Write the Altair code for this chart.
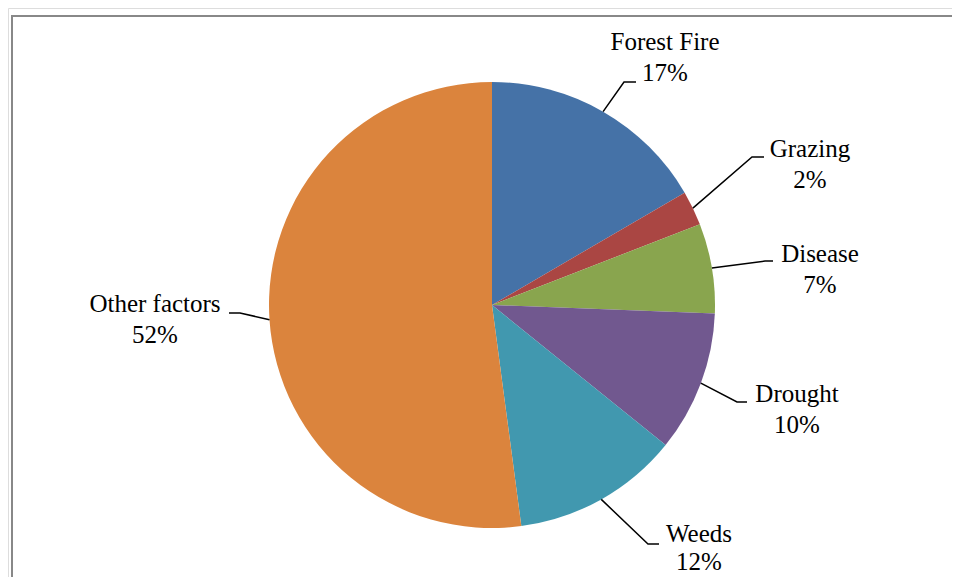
import math
import altair as alt
import pandas as pd

# ---- data ----
categories = ["Forest Fire", "Grazing", "Disease", "Drought", "Weeds", "Other factors"]
values = [16.6, 2.5, 6.5, 10.2, 12.1, 52.1]
pct_labels = ["17%", "2%", "7%", "10%", "12%", "52%"]
colors = ["#4572A7", "#AA4643", "#89A54E", "#71588F", "#4198AF", "#DB843D"]

# ---- layout (styling) ----
W, H = 944, 569
CX, CY, R = 484, 297, 223
# elbow and end points of leader lines, label centres (view pixels)
elbows = [(616, 74), (744, 149), (757, 253), (729, 394), (640, 536), (232, 305)]
ends = [(628, 74), (756, 149), (765, 253), (739, 394), (651, 536), (221, 305)]
label_pos = [(657, 34), (802, 141), (812, 246), (789, 386), (691, 526), (147, 296)]
line_gaps = [31, 31, 31, 31, 28, 31]
FONT = "Liberation Serif"
FS = 25

pie_df = pd.DataFrame({"cat": categories, "val": values, "idx": range(len(values))})

total = sum(values)
cum = 0.0
line_rows, label_rows = [], []
for i, (c, v) in enumerate(zip(categories, values)):
    mid = (cum + v / 2) / total * 2 * math.pi
    cum += v
    sx = CX + R * math.sin(mid)
    sy = CY - R * math.cos(mid)
    pts = [(sx, sy), elbows[i], ends[i]]
    for k, (px, py) in enumerate(pts):
        line_rows.append({"cat": c, "k": k, "px": px, "py": py})
    lx, ly = label_pos[i]
    label_rows.append({"cat": c, "pct": pct_labels[i], "lx": lx, "ly": ly, "ly2": ly + line_gaps[i]})

line_df = pd.DataFrame(line_rows)
label_df = pd.DataFrame(label_rows)

one = pd.DataFrame({"a": [0]})
frame_top = alt.Chart(one).mark_rule(stroke="#888888", strokeWidth=2).encode(
    x=alt.value(3), x2=alt.value(W + 20), y=alt.value(8)
)
frame_left = alt.Chart(one).mark_rule(stroke="#888888", strokeWidth=2).encode(
    x=alt.value(4), y=alt.value(7), y2=alt.value(H + 20)
)

pie = alt.Chart(pie_df).mark_arc(outerRadius=R).encode(
    theta=alt.Theta("val:Q", stack=True),
    order=alt.Order("idx:Q"),
    color=alt.Color("cat:N", scale=alt.Scale(domain=categories, range=colors), legend=None),
    x=alt.value(CX),
    y=alt.value(CY),
)

leaders = alt.Chart(line_df).mark_line(color="black", strokeWidth=1.5).encode(
    x=alt.X("px:Q", scale=None),
    y=alt.Y("py:Q", scale=None),
    detail="cat:N",
    order="k:Q",
)

names = alt.Chart(label_df).mark_text(font=FONT, fontSize=FS, align="center", baseline="middle", color="black").encode(
    x=alt.X("lx:Q", scale=None), y=alt.Y("ly:Q", scale=None), text="cat:N"
)
pcts = alt.Chart(label_df).mark_text(font=FONT, fontSize=FS, align="center", baseline="middle", color="black").encode(
    x=alt.X("lx:Q", scale=None), y=alt.Y("ly2:Q", scale=None), text="pct:N"
)

chart = alt.layer(frame_top, frame_left, pie, leaders, names, pcts).properties(
    width=W, height=H, autosize=alt.AutoSizeParams(type="none"), padding=0
).configure_view(stroke=None).configure(background="white")

chart.save("out.html", embed_options={"renderer": "svg", "actions": False})
